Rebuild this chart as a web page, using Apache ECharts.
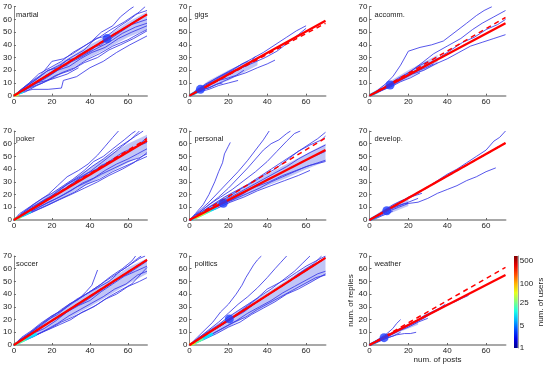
<!DOCTYPE html>
<html>
<head>
<meta charset="utf-8">
<script src="https://cdn.jsdelivr.net/npm/echarts@6/dist/echarts.min.js"></script>
<style>
  html, body { margin: 0; padding: 0; background: #fff; }
  #chart { width: 546px; height: 366px; }
</style>
</head>
<body>
<div id="chart"></div>
<script>
// panel names, row by row
const panelNames = ['martial', 'gigs', 'accomm.', 'poker', 'personal', 'develop.', 'soccer', 'politics', 'weather'];
// fitted lines: replies at 70 posts (solid) and the dashed reference
const fitEnds = [64, 59, 57, 62.5, 55, 60.5, 67, 68.5, 55];
const dashEnds = [64, 57, 61.5, 64, 64.5, 60.5, 67, 68.5, 61];
// big blue dot (mean user), null where not visible
const meanPoints = [[49, 45], [5.6, 5], [10.6, 8.4], null, [17.4, 13.1], [8.9, 7.3], null, [20.5, 20.5], [7.5, 5.8]];
const xTicks = [0, 20, 40, 60];
const colorbarTicks = [1, 5, 25, 100, 500];
const colorbarMax = 730;

// user trajectories (posts, replies) as flat x,y lists
const martialPaths = [
  [0,0, 4,5, 9,11, 14,16, 20,27, 26,29, 31,33, 36,38, 41,43, 46,50, 52,55, 56,62, 61,68, 63,70],
  [0,0, 5,4, 10,9, 16,15, 22,21, 28,24, 34,32, 40,37, 46,40, 52,48, 58,53, 64,59, 70,64],
  [0,0, 6,3, 12,8, 18,12, 25,18, 32,22, 38,28, 45,33, 52,39, 60,44, 66,49, 70,52],
  [0,0, 4,3, 10,5, 18,5, 25,6, 26,12, 33,15, 40,22, 47,27, 54,34, 61,40, 70,47],
  [0,0, 5,6, 11,12, 17,19, 24,24, 30,30, 37,36, 43,45, 49,47, 55,54, 61,60, 66,66, 69,70],
  [0,0, 7,6, 14,12, 21,18, 28,25, 35,30, 42,36, 50,42, 57,49, 64,54, 70,57],
  [0,0, 6,7, 12,13, 18,20, 23,22, 28,28, 34,30, 40,35, 44,40, 50,44, 56,50, 62,56, 70,60],
  [0,0, 8,6, 15,10, 22,16, 30,20, 37,26, 44,30, 50,36, 56,40, 63,45, 70,51],
  [0,0, 3,4, 8,10, 13,17, 19,22, 25,27, 31,34, 38,40, 45,46, 51,52, 58,58, 64,64, 70,67],
  [0,0, 6,5, 12,10, 20,13, 28,17, 34,22],
  [0,0, 5,5, 10,8, 17,14, 23,20, 29,23, 35,29, 41,34, 48,38, 55,45, 62,50, 70,55]
];
const gigsPaths = [
  [0,0, 4,5, 9,9, 14,14, 20,19, 26,24, 32,29, 38,34, 44,40, 50,46, 55,51, 60,55],
  [0,0, 5,4, 10,8, 15,12, 21,17, 27,22, 33,26, 39,30, 45,35, 51,42, 56,48, 60,53],
  [0,0, 6,4, 11,7, 17,11, 23,15, 29,18, 35,22, 40,25, 44,28],
  [0,0, 3,3, 8,7, 12,11, 16,15, 20,18, 25,21, 30,24, 34,31],
  [0,0, 5,3, 10,5, 15,8, 20,10, 25,12],
  [0,0, 4,4, 8,9, 13,13, 18,17, 22,20, 27,25, 30,27],
  [0,0, 5,5, 10,10, 15,12, 20,14, 24,16, 28,20],
  [0,0, 3,2, 6,5, 10,6, 14,9, 17,10]
];
const accommPaths = [
  [0,0, 4,4, 8,9, 12,15, 16,24, 20,35, 26,38, 32,40, 38,43, 44,50, 50,57, 55,63, 59,67, 63,70],
  [0,0, 5,4, 10,9, 16,14, 22,20, 28,27, 33,33, 40,39, 47,45, 53,52, 58,57, 64,62, 70,67],
  [0,0, 6,5, 12,10, 18,15, 24,20, 30,25, 36,30, 42,36, 48,42, 54,46, 60,52, 66,56, 70,60],
  [0,0, 5,3, 10,7, 16,12, 22,17, 28,20, 34,25, 40,29, 46,34, 52,39, 58,42, 64,45, 70,48],
  [0,0, 4,3, 9,7, 14,11, 19,15, 24,19, 29,22, 33,25],
  [0,0, 3,3, 7,6, 11,10, 15,14, 20,18, 25,23, 30,27],
  [0,0, 6,4, 11,7, 16,11, 21,14, 26,18]
];
const pokerPaths = [
  [0,0, 3,5, 8,10, 13,15, 18,20, 23,27, 28,34, 34,39, 39,44, 44,51, 48,58, 52,65, 55,70],
  [0,0, 5,5, 10,10, 16,16, 22,21, 28,28, 34,33, 40,38, 46,45, 52,52, 57,58, 62,64, 66,70],
  [0,0, 6,4, 12,8, 18,12, 25,17, 32,22, 38,28, 45,32, 52,38, 58,42, 64,46, 70,50],
  [0,0, 5,3, 11,7, 17,11, 24,16, 30,20, 37,25, 44,30, 50,35, 57,40, 63,45, 70,53],
  [0,0, 4,4, 9,8, 15,14, 21,19, 27,25, 33,31, 39,37, 45,41, 51,47, 57,53, 63,57, 70,61],
  [0,0, 4,5, 9,10, 14,14, 19,18, 24,24, 30,30, 35,35, 41,42, 47,48, 53,55, 59,61, 64,66, 68,70],
  [0,0, 6,5, 12,9, 18,14, 24,18, 30,23, 36,29, 42,33, 48,39, 54,44, 60,48, 65,52, 70,56],
  [0,0, 3,3, 8,8, 13,12, 18,17, 24,21, 29,27, 35,33, 41,37, 46,43, 52,47, 58,52, 64,57, 70,65],
  [0,0, 5,6, 10,12, 15,17, 20,21, 26,27, 31,32, 37,39, 42,46, 47,50, 52,56, 58,63, 62,68, 64,70],
  [0,0, 7,5, 13,10, 20,15, 26,20, 33,26, 40,31, 46,36, 53,41, 60,46, 66,49, 70,52]
];
const personalPaths = [
  [0,0, 3,5, 7,12, 10,20, 13,30, 15,38, 17,45, 18,52, 20,58, 21,61],
  [0,0, 5,7, 10,14, 15,22, 20,30, 25,38, 30,47, 34,55, 38,63, 41,70],
  [0,0, 5,6, 10,12, 16,18, 22,24, 28,31, 34,38, 40,46, 45,54, 50,62, 54,68, 57,70],
  [0,0, 5,6, 10,12, 15,18, 20,25, 25,33, 30,41, 34,48, 38,55, 42,60, 46,63, 50,68, 52,70],
  [0,0, 6,6, 12,12, 18,18, 24,23, 30,28, 36,34, 42,40, 48,46, 54,52, 60,58, 66,64, 70,69],
  [0,0, 6,4, 12,9, 18,13, 24,17, 30,21, 36,25, 42,30, 48,34, 54,38, 60,42, 66,45, 70,47],
  [0,0, 5,4, 10,8, 16,12, 22,16, 28,21, 34,27, 40,32, 46,36, 52,41, 58,46, 64,50, 70,54],
  [0,0, 4,4, 9,8, 14,12, 20,17, 26,22, 32,27, 38,32, 44,37, 50,42, 56,48, 62,53, 70,59],
  [0,0, 5,5, 10,10, 15,14, 21,19, 27,25, 33,30, 38,35, 44,40, 50,47, 56,54, 62,59, 68,63, 70,66],
  [0,0, 7,5, 14,9, 21,14, 28,18, 35,23, 42,27, 49,31, 56,35, 62,39],
  [0,0, 6,5, 13,10, 20,15, 27,21, 34,26, 41,30, 48,35, 55,39, 62,43, 70,46]
];
const developPaths = [
  [0,0, 4,3, 8,7, 12,11, 16,14, 20,18, 25,21, 30,26, 35,31, 40,36, 45,40, 50,45, 55,50, 60,55, 64,62, 67,65, 70,70],
  [0,0, 5,3, 10,7, 15,10, 20,13, 25,14, 30,17, 35,21, 40,24, 45,27, 50,31, 55,34, 60,38, 65,41],
  [0,0, 4,4, 8,8, 12,12, 16,15, 21,18, 27,21],
  [0,0, 5,4, 10,8, 15,11, 20,14, 25,17],
  [0,0, 3,3, 7,6, 10,9, 14,11, 18,13, 20,13],
  [0,0, 3,1, 6,3, 9,5, 12,7]
];
const soccerPaths = [
  [0,0, 4,6, 9,11, 14,17, 19,22, 24,26, 29,32, 34,36, 38,42, 41,47, 43,55, 44,59],
  [0,0, 5,5, 10,11, 15,16, 20,22, 25,28, 30,33, 36,38, 42,44, 48,50, 54,56, 60,62, 65,68, 67,70],
  [0,0, 6,4, 12,8, 18,12, 24,16, 30,20, 36,26, 42,30, 48,36, 54,40, 60,46, 66,50, 70,53],
  [0,0, 5,3, 11,7, 17,12, 23,17, 29,23, 35,28, 41,33, 47,38, 53,44, 59,48, 65,55, 70,58],
  [0,0, 4,4, 9,9, 14,14, 19,18, 25,23, 31,29, 37,34, 43,40, 49,46, 55,52, 61,57, 67,63, 70,66],
  [0,0, 3,4, 8,9, 13,15, 18,20, 23,24, 28,30, 33,36, 39,41, 45,47, 51,54, 57,60, 62,66, 64,70],
  [0,0, 7,5, 13,9, 19,13, 25,18, 31,22, 38,27, 44,32, 50,38, 56,43, 62,48, 70,61],
  [0,0, 5,5, 10,9, 16,13, 22,19, 28,26, 34,31, 40,35, 46,42, 52,48, 58,54, 64,58, 70,62],
  [0,0, 4,5, 9,10, 14,16, 20,23, 26,28, 32,34, 38,40, 44,45, 50,50, 56,58, 62,64, 66,68, 69,70]
];
const politicsPaths = [
  [0,0, 4,6, 8,12, 12,18, 16,26, 20,32, 24,40, 27,47, 29,53, 31,58, 33,63, 35,67, 37,70],
  [0,0, 5,6, 10,12, 15,18, 20,25, 25,32, 30,38, 35,45, 40,53, 44,60, 47,65, 50,70],
  [0,0, 6,6, 12,12, 18,18, 24,24, 30,31, 36,38, 42,44, 48,51, 54,58, 58,64, 62,70],
  [0,0, 6,5, 12,9, 18,14, 24,19, 30,25, 36,30, 42,35, 48,41, 54,46, 60,51, 66,56, 70,58],
  [0,0, 5,4, 11,8, 17,13, 23,18, 29,22, 35,28, 41,33, 47,38, 53,43, 59,48, 65,53, 70,55],
  [0,0, 4,4, 9,9, 14,13, 20,19, 26,25, 32,31, 38,37, 44,43, 50,49, 56,56, 62,61, 68,67, 70,69],
  [0,0, 5,5, 10,10, 16,15, 22,21, 28,26, 34,33, 40,39, 46,45, 52,51, 58,58, 64,64, 68,70],
  [0,0, 7,4, 14,9, 20,14, 26,18, 32,24, 38,29, 44,34, 50,40, 56,44, 62,49, 70,56],
  [0,0, 5,6, 10,11, 15,16, 20,22, 25,27, 30,32, 35,37, 40,44, 45,48, 50,52, 55,57, 60,62, 65,66, 70,70]
];
const weatherPaths = [
  [0,0, 4,3, 8,6, 12,9, 16,12, 20,15, 24,18, 28,21, 32,25, 36,28, 40,32, 44,34, 48,37, 51,39],
  [0,0, 4,4, 8,7, 12,10, 16,13, 20,16, 24,19, 28,23, 32,26, 36,29, 39,32],
  [0,0, 5,3, 10,6, 14,8, 18,9, 21,9, 24,10],
  [0,0, 3,3, 6,6, 9,9, 12,13, 14,17, 16,20],
  [0,0, 5,4, 10,7, 15,11, 20,14, 25,18, 30,21],
  [0,0, 4,2, 8,5, 12,7, 16,10]
];
const allPaths = [martialPaths, gigsPaths, accommPaths, pokerPaths, personalPaths, developPaths, soccerPaths, politicsPaths, weatherPaths];

// dense core of each panel (outline, upper edge then lower edge back)
const coreBands = [
  [[0,1],[10,12],[20,22],[30,31],[40,40],[50,48],[60,58],[70,66],[70,52],[60,46],[50,38],[40,30],[30,21],[20,13],[10,6],[0,0]],
  [[0,1],[10,12],[20,20],[30,27],[35,30],[35,24],[20,12],[10,6],[0,0]],
  [[0,1],[10,11],[20,20],[30,28],[35,32],[35,25],[20,14],[10,6],[0,0]],
  [[0,1],[10,12],[20,21],[30,31],[40,41],[50,51],[60,60],[70,67],[70,53],[60,45],[50,37],[40,29],[30,21],[20,13],[10,6],[0,0]],
  [[0,1],[10,11],[20,20],[30,28],[40,36],[50,44],[60,52],[70,60],[70,46],[60,40],[50,33],[40,27],[30,20],[20,13],[10,6],[0,0]],
  [[0,1],[8,9],[15,14],[20,17],[20,11],[10,5],[0,0]],
  [[0,1],[10,12],[20,22],[30,32],[40,42],[50,51],[60,61],[70,68],[70,56],[60,48],[50,39],[40,30],[30,22],[20,14],[10,6],[0,0]],
  [[0,1],[10,12],[20,22],[30,32],[40,41],[50,51],[60,61],[70,68],[70,55],[60,48],[50,40],[40,31],[30,23],[20,14],[10,6],[0,0]],
  [[0,1],[8,7],[15,13],[25,20],[25,16],[15,10],[8,5],[0,0]]
];
// high-density streaks near the origin: x0, y0, x1, y1, users
const hotSegments = [
  [[0,0,5,3.5,12],[0,0,2.5,1.5,60]],
  [[0,0,4,3,8]],
  [[0,0,4,3,8]],
  [[0,0,9,7,12],[0,0,4,3,30]],
  [[1,0.5,14,10,10],[2,1,11,8,22],[3,2,8,6,60]],
  [[0,0,4,3,6]],
  [[0,0,12,9,11],[0,0,6,4.5,25]],
  [[1,0.5,12,9,11],[1,0.5,7,5,25],[0,0,3,2,70]],
  [[0,0,4,3,6]]
];

const colLefts = [11, 189.5, 369.5];
const rowTops = [6.7, 131, 256];
const gridW = 136, gridH = 89;
const font = 'Liberation Sans, Arial, sans-serif';

function jet(t) {
  t = Math.max(0, Math.min(1, t));
  const stops = [[0, [0, 0, 143]], [0.125, [0, 0, 255]], [0.375, [0, 255, 255]],
                 [0.625, [255, 255, 0]], [0.875, [255, 0, 0]], [1, [128, 0, 0]]];
  for (let k = 1; k < stops.length; k++) {
    if (t <= stops[k][0]) {
      const a = stops[k - 1], b = stops[k];
      const f = (t - a[0]) / (b[0] - a[0]);
      const c = a[1].map((v, j) => Math.round(v + (b[1][j] - v) * f));
      return 'rgb(' + c.join(',') + ')';
    }
  }
  return 'rgb(128,0,0)';
}
const countColor = n => jet(Math.log(n) / Math.log(colorbarMax));

const toPairs = flat => {
  const out = [];
  for (let k = 0; k < flat.length; k += 2) out.push([flat[k], flat[k + 1]]);
  return out;
};

const grids = [], xAxes = [], yAxes = [], series = [], titles = [];

panelNames.forEach((name, i) => {
  const left = colLefts[i % 3], top = rowTops[Math.floor(i / 3)];
  const isLast = i === 8;
  grids.push({ left: left, top: top, width: gridW, height: gridH });
  xAxes.push({
    type: 'value', gridIndex: i, min: 0, max: 70,
    name: isLast ? 'num. of posts' : '', nameLocation: 'middle', nameGap: 11,
    nameTextStyle: { fontSize: 8, color: '#222', fontFamily: font },
    axisLine: { lineStyle: { color: '#a8a8a8', width: 2 } },
    axisTick: { inside: true, length: 2, lineStyle: { color: '#666' }, customValues: xTicks },
    axisLabel: { fontSize: 8, color: '#222', margin: 2, fontFamily: font, customValues: xTicks },
    splitLine: { show: false }
  });
  yAxes.push({
    type: 'value', gridIndex: i, min: 0, max: 70, interval: 10,
    name: isLast ? 'num. of replies' : '', nameLocation: 'middle', nameGap: 14, nameRotate: 90,
    nameTextStyle: { fontSize: 8, color: '#222', fontFamily: font },
    axisLine: { show: true, lineStyle: { color: '#888', width: 1 } },
    axisTick: { show: true, inside: true, length: 2, lineStyle: { color: '#666' } },
    axisLabel: { fontSize: 8, color: '#222', margin: 2, fontFamily: font },
    splitLine: { show: false }
  });
  titles.push({
    text: name, left: left + 5, top: top + 4, padding: 0,
    textStyle: { fontSize: 7.5, fontWeight: 'normal', color: '#222', fontFamily: font }
  });

  const band = coreBands[i];
  series.push({
    type: 'custom', xAxisIndex: i, yAxisIndex: i, silent: true, z: 1,
    data: band,
    renderItem: (params, api) => {
      if (params.dataIndex !== 0) return null;
      return {
        type: 'polygon',
        shape: { points: band.map(p => api.coord(p)) },
        style: { fill: 'rgba(130,140,240,0.5)' }
      };
    }
  });
  allPaths[i].forEach(p => {
    series.push({
      type: 'line', xAxisIndex: i, yAxisIndex: i, silent: true, z: 2,
      showSymbol: false, data: toPairs(p),
      lineStyle: { color: '#3a3ae8', width: 1, opacity: 0.85 }
    });
  });
  hotSegments[i].forEach(s => {
    series.push({
      type: 'line', xAxisIndex: i, yAxisIndex: i, silent: true, z: 3,
      showSymbol: false, data: [[s[0], s[1]], [s[2], s[3]]],
      lineStyle: { color: countColor(s[4]), width: 3, opacity: 0.85 }
    });
  });
  series.push({
    type: 'line', xAxisIndex: i, yAxisIndex: i, silent: true, z: 4,
    showSymbol: false, data: [[0, 0], [70, dashEnds[i]]],
    lineStyle: { color: '#ff0000', width: 1.5, type: [5, 4] }
  });
  series.push({
    type: 'line', xAxisIndex: i, yAxisIndex: i, silent: true, z: 5,
    showSymbol: false, data: [[0, 0], [70, fitEnds[i]]],
    lineStyle: { color: '#ff0000', width: 2.2 }
  });
  if (meanPoints[i]) {
    series.push({
      type: 'scatter', xAxisIndex: i, yAxisIndex: i, silent: true, z: 6,
      symbolSize: 9, data: [meanPoints[i]],
      itemStyle: { color: '#1f3dff' }
    });
  }
});

// colour bar for number of users (log scale)
const cbIndex = panelNames.length;
const cbStops = [];
for (let k = 0; k <= 10; k++) cbStops.push({ offset: k / 10, color: jet(k / 10) });
grids.push({ left: 514, top: 256, width: 4, height: 92 });
xAxes.push({ type: 'category', gridIndex: cbIndex, data: ['users'], show: false });
yAxes.push({
  type: 'value', gridIndex: cbIndex, position: 'right', min: 0, max: Math.log(colorbarMax),
  name: 'num. of users', nameLocation: 'middle', nameGap: 17, nameRotate: 90,
  nameTextStyle: { fontSize: 8, color: '#222', fontFamily: font },
  axisLine: { show: true, lineStyle: { color: '#888', width: 0.8 } },
  axisTick: { show: false },
  axisLabel: {
    fontSize: 8, color: '#222', margin: 2, fontFamily: font,
    customValues: colorbarTicks.map(v => Math.log(v)),
    formatter: v => String(Math.round(Math.exp(v)))
  },
  splitLine: { show: false }
});
series.push({
  type: 'bar', xAxisIndex: cbIndex, yAxisIndex: cbIndex, silent: true,
  barWidth: '100%', data: [Math.log(colorbarMax)],
  itemStyle: { color: new echarts.graphic.LinearGradient(0, 1, 0, 0, cbStops) }
});

const chart = echarts.init(document.getElementById('chart'), null, { renderer: 'canvas' });
chart.setOption({
  animation: false,
  backgroundColor: '#fff',
  title: titles,
  grid: grids,
  xAxis: xAxes,
  yAxis: yAxes,
  series: series
});
</script>
</body>
</html>
